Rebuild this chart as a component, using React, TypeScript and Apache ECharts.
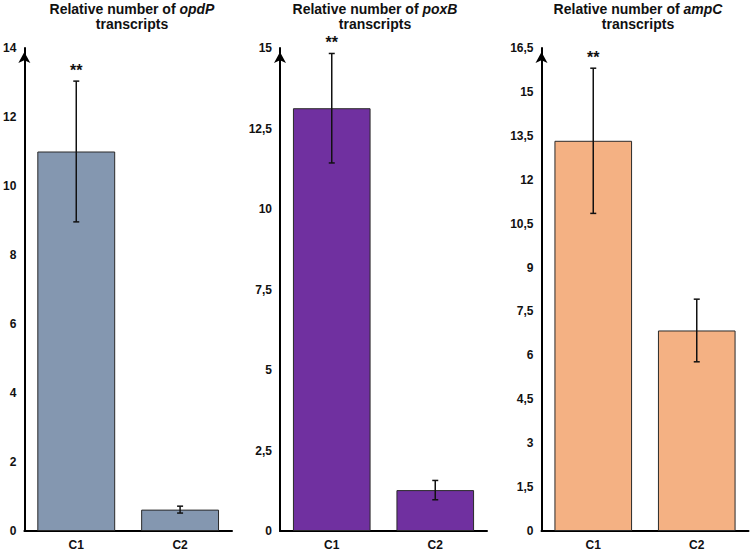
import React, { useEffect, useRef } from "react";
import * as echarts from "echarts";

const categories = ["C1", "C2"];
const genes = ["opdP", "poxB", "ampC"];
const opdPValues = [11.0, 0.62];
const opdPErrors = [2.04, 0.1];
const poxBValues = [13.13, 1.27];
const poxBErrors = [1.7, 0.3];
const ampCValues = [13.33, 6.85];
const ampCErrors = [2.48, 1.07];
const significance = ["**", ""];
const yMax = [14, 15, 16.5];
const yInterval = [2, 2.5, 1.5];
const colors = ["#8497B0", "#7030A0", "#F4B183"];

const values = [opdPValues, poxBValues, ampCValues];
const errors = [opdPErrors, poxBErrors, ampCErrors];

const FONT = "'Liberation Sans', Arial, Helvetica, sans-serif";
const grids = [
  { left: 24, top: 48, width: 208, height: 484 },
  { left: 280, top: 48, width: 207, height: 484 },
  { left: 541.5, top: 48, width: 207, height: 484 },
];
const titleCenters = [132, 375, 638];

export default function App() {
  const ref = useRef<HTMLDivElement>(null);
  useEffect(() => {
    if (!ref.current) return;
    const chart = echarts.init(ref.current, null, { renderer: "svg" });
    const series: any[] = [];
    genes.forEach((g, i) => {
      series.push({
        type: "bar",
        xAxisIndex: i,
        yAxisIndex: i,
        data: values[i],
        barWidth: "75%",
        itemStyle: { color: colors[i], borderColor: "#2a2a2a", borderWidth: 1 },
        z: 2,
      });
      series.push({
        type: "custom",
        xAxisIndex: i,
        yAxisIndex: i,
        z: 5,
        data: values[i].map((v, k) => [k, v - errors[i][k], v + errors[i][k]]),
        encode: { x: 0, y: [1, 2] },
        renderItem: (params: any, api: any) => {
          const idx = api.value(0);
          const lo = api.coord([idx, api.value(1)]);
          const hi = api.coord([idx, api.value(2)]);
          const cap = 3;
          const stroke = { stroke: "#111", lineWidth: 1.5 };
          const children: any[] = [
            { type: "line", shape: { x1: lo[0], y1: lo[1], x2: hi[0], y2: hi[1] }, style: stroke },
            { type: "line", shape: { x1: lo[0] - cap, y1: lo[1], x2: lo[0] + cap, y2: lo[1] }, style: stroke },
            { type: "line", shape: { x1: hi[0] - cap, y1: hi[1], x2: hi[0] + cap, y2: hi[1] }, style: stroke },
          ];
          const sig = significance[params.dataIndex];
          if (sig) {
            children.push({
              type: "text",
              style: {
                text: sig,
                x: hi[0],
                y: hi[1] - 11,
                align: "center",
                verticalAlign: "middle",
                fontSize: 16,
                fontWeight: "bold",
                fontFamily: FONT,
                fill: "#111",
              },
            });
          }
          return { type: "group", children };
        },
      });
    });

    const titleStyle = {
      fontSize: 14,
      fontWeight: "bold",
      fontFamily: FONT,
      color: "#111",
      lineHeight: 14,
    };
    const titles: any[] = [];
    genes.forEach((g, i) => {
      titles.push({
        text: `Relative number of {i|${g}}`,
        left: titleCenters[i],
        top: 2,
        padding: 0,
        textAlign: "center",
        textStyle: {
          ...titleStyle,
          rich: { i: { ...titleStyle, fontStyle: "italic" } },
        },
      });
      titles.push({
        text: "transcripts",
        left: titleCenters[i],
        top: 17,
        padding: 0,
        textAlign: "center",
        textStyle: titleStyle,
      });
    });

    chart.setOption({
      animation: false,
      backgroundColor: "#fff",
      title: titles,
      grid: grids,
      xAxis: genes.map((g, i) => ({
        type: "category",
        gridIndex: i,
        data: categories,
        axisLine: { show: true, lineStyle: { color: "#000", width: 2 } },
        axisTick: { show: false },
        axisLabel: { fontSize: 12, fontWeight: "bold", fontFamily: FONT, color: "#111", margin: 8 },
      })),
      yAxis: genes.map((g, i) => ({
        type: "value",
        gridIndex: i,
        min: 0,
        max: yMax[i],
        interval: yInterval[i],
        splitLine: { show: false },
        axisTick: { show: false },
        axisLine: {
          show: true,
          symbol: ["none", "arrow"],
          symbolSize: [9, 11],
          symbolOffset: [0, -4],
          lineStyle: { color: "#000", width: 2 },
        },
        axisLabel: {
          fontSize: 12,
          fontWeight: "bold",
          fontFamily: FONT,
          color: "#111",
          margin: 8,
          showMinLabel: true,
          showMaxLabel: true,
          formatter: (v: number) => String(v).replace(".", ","),
        },
      })),
      series,
    });
    return () => chart.dispose();
  }, []);
  return (
    <div
      ref={ref}
      style={{ position: "fixed", left: 0, top: 0, width: 750, height: 551, background: "#fff" }}
    />
  );
}
